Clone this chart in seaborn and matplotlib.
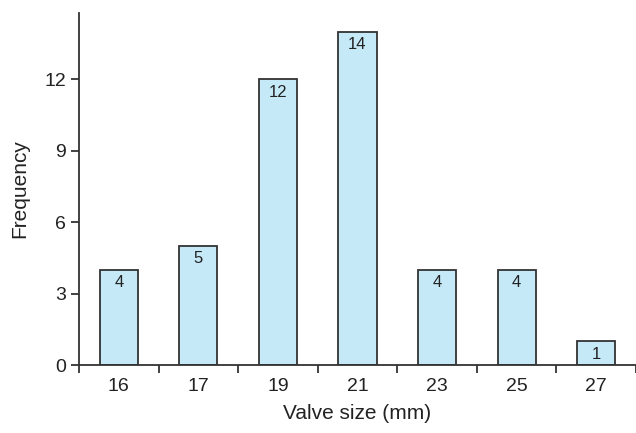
import matplotlib
matplotlib.use("Agg")
import matplotlib.pyplot as plt
import seaborn as sns
import numpy as np

sizes = ["16", "17", "19", "21", "23", "25", "27"]
freq = [4, 5, 12, 14, 4, 4, 1]

sns.set_style("ticks")
plt.rcParams["font.family"] = ["Liberation Sans", "DejaVu Sans"]

fig = plt.figure(figsize=(6.36, 4.33), dpi=100)
ax = fig.add_axes([0.1242, 0.157, 0.8758, 0.813])

sns.barplot(x=sizes, y=freq, ax=ax, color="#c6e9f8", width=0.48,
            edgecolor="#333333", linewidth=1.3, saturation=1)

for i, v in enumerate(freq):
    ax.annotate(str(v), (i, v), xytext=(0, -4), textcoords="offset points",
                ha="center", va="top", fontsize=12, color="#222222")

ax.set_xlim(-0.5, 6.5)
ax.set_ylim(0, 14.78)
ax.set_yticks([0, 3, 6, 9, 12])
ax.set_xticks(np.arange(-0.5, 7, 1), minor=True)
ax.tick_params(axis="x", which="major", length=0, labelsize=14, pad=9, colors="#222222")
ax.tick_params(axis="x", which="minor", length=6, width=1.3, color="#333333", direction="out")
ax.tick_params(axis="y", length=6, width=1.3, color="#333333", labelsize=14, colors="#222222")

ax.set_xlabel("Valve size (mm)", fontsize=15, color="#222222", labelpad=7)
ax.set_ylabel("Frequency", fontsize=15, color="#222222", labelpad=11)

sns.despine(ax=ax)
for s in ["left", "bottom"]:
    ax.spines[s].set_color("#333333")
    ax.spines[s].set_linewidth(1.3)

fig.savefig("out.png", dpi=100)
